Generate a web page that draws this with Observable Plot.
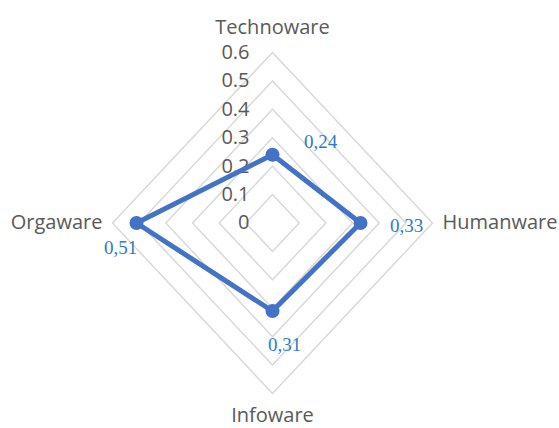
<!DOCTYPE html>
<html>
<head>
<meta charset="utf-8">
<script src="https://cdn.jsdelivr.net/npm/d3@7"></script>
<script src="https://cdn.jsdelivr.net/npm/@observablehq/plot@0.6"></script>
<style>
  html, body { margin: 0; padding: 0; background: #fff; }
  #chart svg { display: block; }
</style>
</head>
<body>
<div id="chart"></div>
<script>
const categories = ["Technoware", "Humanware", "Infoware", "Orgaware"];
const values = [0.24, 0.33, 0.31, 0.51];
const valueLabels = ["0,24", "0,33", "0,31", "0,51"];
const ticks = [0, 0.1, 0.2, 0.3, 0.4, 0.5, 0.6];
const tickLabels = ["0", "0.1", "0.2", "0.3", "0.4", "0.5", "0.6"];

const n = categories.length;
const ang = i => (2 * Math.PI * i) / n; // clockwise from top
const px = (v, i) => v * Math.sin(ang(i));
const py = (v, i) => v * Math.cos(ang(i));

// grid rings
const rings = [];
ticks.slice(1).forEach(t => {
  for (let i = 0; i <= n; i++) rings.push({ ring: t, x: px(t, i % n), y: py(t, i % n) });
});

const series = [];
for (let i = 0; i <= n; i++) series.push({ x: px(values[i % n], i % n), y: py(values[i % n], i % n) });
const points = values.map((v, i) => ({ x: px(v, i), y: py(v, i), label: valueLabels[i], i }));

const maxV = ticks[ticks.length - 1];
const catPts = categories.map((c, i) => ({ x: px(maxV, i), y: py(maxV, i), c, i }));
const tickPts = ticks.map((t, k) => ({ x: 0, y: t, label: tickLabels[k] }));

// per-axis label placement offsets
const catDx = [0, 10, 0, -10];
const catDy = [-25, 0, 22, 0];
const catAnchor = ["middle", "start", "middle", "end"];
const valDx = [48, 46, 12, -16];
const valDy = [-13, 3, 34, 25];

const chart = Plot.plot({
  width: 559,
  height: 428,
  margin: 0,
  x: { domain: [-maxV, maxV], range: [112, 432], axis: null },
  y: { domain: [-maxV, maxV], range: [393, 52], axis: null },
  style: { background: "#fff" },
  marks: [
    Plot.line(rings, { x: "x", y: "y", z: "ring", stroke: "#d9d9d9", strokeWidth: 1.5 }),
    Plot.text(tickPts, {
      x: "x", y: "y", text: "label", textAnchor: "end", dx: -23,
      fill: "#595959", fontSize: 20, fontFamily: "Open Sans"
    }),
    Plot.line(series, { x: "x", y: "y", stroke: "#4472c4", strokeWidth: 5, strokeLinejoin: "round" }),
    Plot.dot(points, { x: "x", y: "y", r: 7, fill: "#4472c4", stroke: "none" }),
    ...categories.map((c, i) => Plot.text([catPts[i]], {
      x: "x", y: "y", text: "c", textAnchor: catAnchor[i], dx: catDx[i], dy: catDy[i],
      fill: "#595959", fontSize: 20, fontFamily: "Open Sans"
    })),
    ...values.map((v, i) => Plot.text([points[i]], {
      x: "x", y: "y", text: "label", textAnchor: "middle", dx: valDx[i], dy: valDy[i],
      fill: "#2e7bc4", fontSize: 19, fontFamily: "Liberation Serif"
    }))
  ]
});
document.getElementById("chart").appendChild(chart);
</script>
</body>
</html>
